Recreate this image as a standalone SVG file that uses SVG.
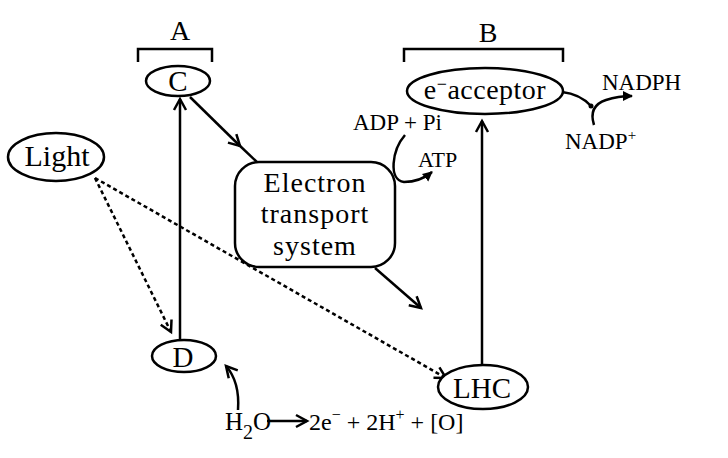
<svg xmlns="http://www.w3.org/2000/svg" width="728" height="458" viewBox="0 0 728 458">
<defs>
<style>
.t{font-family:"Liberation Serif","Times New Roman",serif;fill:#000}
.sh{fill:#fff;stroke:#000;stroke-width:2.5}
.ln{fill:none;stroke:#000;stroke-width:2.5}
.dl{fill:none;stroke:#000;stroke-width:2.5;stroke-dasharray:4 3}
</style>
<marker id="ah" markerUnits="userSpaceOnUse" markerWidth="16" markerHeight="16" refX="12" refY="7" orient="auto" viewBox="0 0 16 14">
<path d="M1,1 L12,7 L1,13" fill="none" stroke="#000" stroke-width="2.5"/>
</marker>
<marker id="sa" markerUnits="userSpaceOnUse" markerWidth="12" markerHeight="12" refX="9" refY="5" orient="auto" viewBox="0 0 12 10">
<path d="M0,0 L10,5 L0,10 Z" fill="#000"/>
</marker>
</defs>
<rect width="728" height="458" fill="#fff"/>

<g id="connectors">
<path class="ln" d="M180,340 L180,99" marker-end="url(#ah)"/>
<path class="ln" d="M482,365 L482,121" marker-end="url(#ah)"/>
<path class="ln" d="M190,97 L240,146" marker-end="url(#ah)"/>
<path class="ln" d="M238,144 L258,163"/>
<path class="ln" d="M375,268 L421,308" marker-end="url(#ah)"/>
<path class="dl" d="M95,178 L171,332" marker-end="url(#ah)"/>
<path class="dl" d="M95,178 L446,378" marker-end="url(#ah)"/>
<path class="ln" d="M238,410 Q240,382 226,366" marker-end="url(#ah)"/>
<path class="ln" d="M405,135 C392,150 388,180 404,182 Q420,182 432,172" marker-end="url(#sa)"/>
<path class="ln" d="M562,92 Q580,94 591,106"/>
<circle cx="591" cy="106" r="2.5" fill="#000"/>
<path class="ln" d="M594,125 Q588,106 606,100 Q618,96 632,96" marker-end="url(#sa)"/>
<path class="ln" d="M267,421 L307,421" marker-end="url(#ah)"/>
</g>

<g id="bracketA"><path class="ln" d="M138,62 V49 H212 V62"/><text class="t" x="180" y="40" font-size="28" text-anchor="middle">A</text></g>
<g id="bracketB"><path class="ln" d="M404,62 V49 H563 V62"/><text class="t" x="488" y="42" font-size="28" text-anchor="middle">B</text></g>

<g id="C"><ellipse class="sh" cx="178" cy="81" rx="32" ry="15"/><text class="t" x="178" y="91" font-size="29" text-anchor="middle">C</text></g>
<g id="D"><ellipse class="sh" cx="184" cy="356" rx="32" ry="16"/><text class="t" x="183" y="367" font-size="29" text-anchor="middle">D</text></g>
<g id="Light"><ellipse class="sh" cx="56" cy="157" rx="48" ry="24"/><text class="t" x="57" y="166" font-size="30" text-anchor="middle">Light</text></g>
<g id="LHC"><ellipse class="sh" cx="483" cy="387" rx="45" ry="22"/><text class="t" x="482" y="398" font-size="29" text-anchor="middle">LHC</text></g>
<g id="acceptor"><ellipse class="sh" cx="485" cy="91" rx="78" ry="23"/><text class="t" x="485" y="99" font-size="28" text-anchor="middle" letter-spacing="0.5">e<tspan font-size="18" dy="-9">−</tspan><tspan dy="9">acceptor</tspan></text></g>
<g id="ETS"><rect class="sh" x="235" y="162" width="160" height="105" rx="24" ry="24"/>
<text class="t" font-size="28" text-anchor="middle" letter-spacing="1"><tspan x="315" y="192">Electron</tspan><tspan x="315" y="223">transport</tspan><tspan x="315" y="255">system</tspan></text></g>

<g id="NADPH"><text class="t" x="602" y="90" font-size="23">NADPH</text></g>
<g id="NADP"><text class="t" x="565" y="149" font-size="23">NADP<tspan font-size="15" dy="-9">+</tspan></text></g>
<g id="ADP"><text class="t" x="353" y="130" font-size="23">ADP + Pi</text></g>
<g id="ATP"><text class="t" x="418" y="167" font-size="22">ATP</text></g>
<g id="water"><text class="t" x="225" y="430" font-size="25">H<tspan font-size="20" dy="9">2</tspan><tspan dy="-9">O</tspan></text>
<text class="t" x="309" y="430" font-size="24">2e<tspan font-size="16" dy="-10">−</tspan><tspan dy="10"> + 2H</tspan><tspan font-size="16" dy="-10">+</tspan><tspan dy="10"> + [O]</tspan></text></g>
</svg>
